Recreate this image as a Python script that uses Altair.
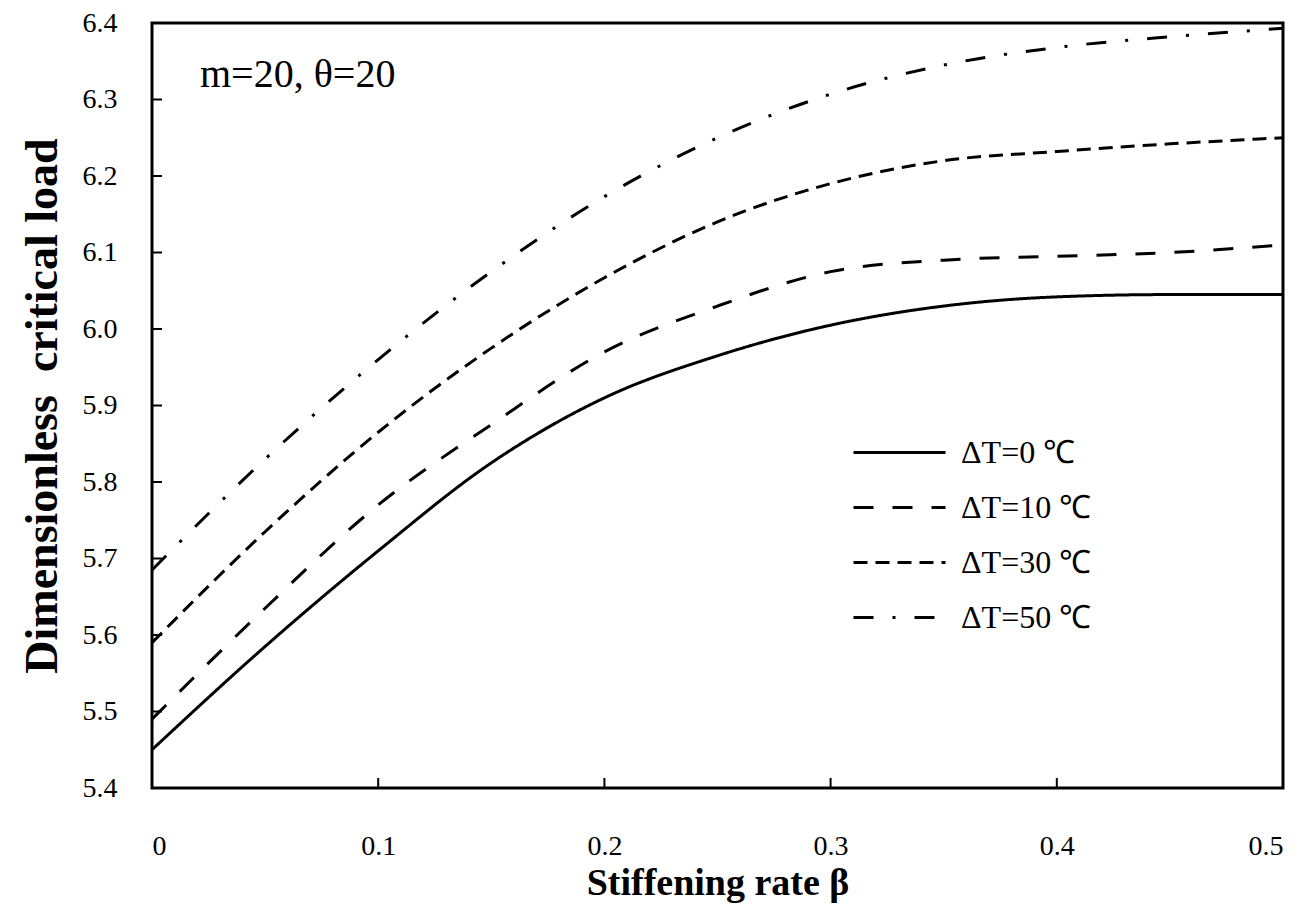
import altair as alt
import pandas as pd

beta = [0, 0.05, 0.1, 0.15, 0.2, 0.25, 0.3, 0.35, 0.4, 0.45, 0.5]
dt0 = [5.45, 5.585, 5.71, 5.825, 5.91, 5.965, 6.005, 6.03, 6.042, 6.045, 6.045]
dt10 = [5.49, 5.635, 5.77, 5.875, 5.97, 6.03, 6.075, 6.09, 6.095, 6.10, 6.11]
dt30 = [5.59, 5.735, 5.865, 5.975, 6.067, 6.14, 6.19, 6.22, 6.232, 6.242, 6.25]
dt50 = [5.685, 5.83, 5.96, 6.075, 6.173, 6.25, 6.307, 6.345, 6.368, 6.382, 6.393]
series_names = ["ΔT=0 ℃", "ΔT=10 ℃", "ΔT=30 ℃", "ΔT=50 ℃"]
x_ticks = [0, 0.1, 0.2, 0.3, 0.4, 0.5]
y_ticks = [5.4, 5.5, 5.6, 5.7, 5.8, 5.9, 6.0, 6.1, 6.2, 6.3, 6.4]

rows = []
for name, vals in zip(series_names, [dt0, dt10, dt30, dt50]):
    for b, v in zip(beta, vals):
        rows.append({"beta": b, "load": v, "series": name})
df = pd.DataFrame(rows)

W, H = 1131, 765
FONT = "Liberation Serif"

xscale = alt.Scale(domain=[0, 0.5], nice=False, zero=False)
yscale = alt.Scale(domain=[5.4, 6.4], nice=False, zero=False)

xaxis = alt.Axis(values=x_ticks, format="~g", title="Stiffening rate β",
                 ticks=False, domain=False, grid=False,
                 labelFont=FONT, labelFontSize=28, labelColor="black", labelPadding=44,
                 titleFont=FONT, titleFontSize=38, titleFontWeight="bold", titleColor="black",
                 titlePadding=4)
yaxis = alt.Axis(values=y_ticks, format=".1f", title="Dimensionless\u00a0\u00a0critical load",
                 ticks=False, domain=False, grid=False,
                 labelFont=FONT, labelFontSize=28, labelColor="black", labelPadding=35,
                 titleFont=FONT, titleFontSize=46, titleFontWeight="bold", titleColor="black",
                 titlePadding=16)

dash_range = [[1, 0], [20, 19], [14, 8], [20, 19, 3, 19]]

lines = alt.Chart(df).mark_line(color="black", strokeWidth=3, interpolate="monotone").encode(
    x=alt.X("beta:Q", scale=xscale, axis=xaxis),
    y=alt.Y("load:Q", scale=yscale, axis=yaxis),
    strokeDash=alt.StrokeDash("series:N", sort=series_names,
                              scale=alt.Scale(domain=series_names, range=dash_range),
                              legend=alt.Legend(title=None, orient="none", legendX=723, legendY=405,
                                                symbolType="M-2,0H2", symbolSize=2116,
                                                symbolStrokeWidth=3, symbolStrokeColor="black",
                                                symbolFillColor="black",
                                                labelFont=FONT, labelFontSize=32, labelColor="black",
                                                labelOffset=37, rowPadding=14)),
)

ytick_df = pd.DataFrame({"v": y_ticks})
xtick_df = pd.DataFrame({"b": x_ticks})

yt = alt.Chart(ytick_df).mark_rule(color="black", strokeWidth=2).encode(
    y=alt.Y("v:Q", scale=yscale, axis=yaxis), x=alt.value(0), x2=alt.value(10))
xt = alt.Chart(xtick_df).mark_rule(color="black", strokeWidth=2).encode(
    x=alt.X("b:Q", scale=xscale, axis=xaxis), y=alt.value(H), y2=alt.value(H - 10))

note = alt.Chart(pd.DataFrame({"t": ["m=20, θ=20"]})).mark_text(
    font=FONT, fontSize=40, color="black", align="left", baseline="middle").encode(
    text="t:N", x=alt.value(48), y=alt.value(52))

chart = alt.layer(lines, yt, xt, note).properties(
    width=W, height=H,
    background="white",
    autosize=alt.AutoSizeParams(type="none"),
    padding={"left": 152, "top": 23, "right": 27, "bottom": 131},
).configure_view(stroke="black", strokeWidth=3)

chart.save("out.html", embed_options={"renderer": "svg", "actions": False})
